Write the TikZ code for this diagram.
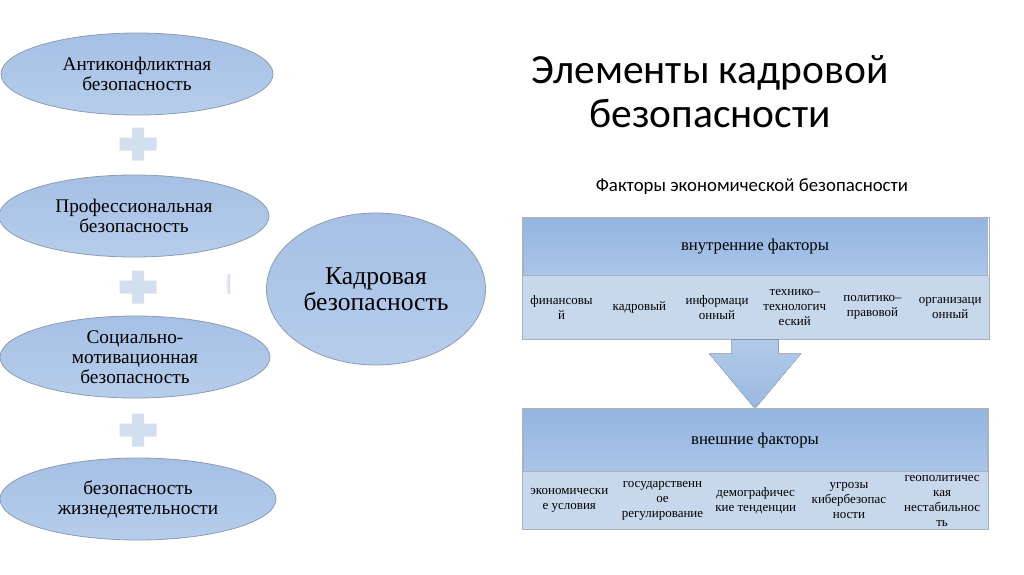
\documentclass[tikz,border=0pt]{standalone}
\usepackage{fontspec}
\setmainfont{Liberation Serif}
\newfontfamily\headfont{Carlito}
\usepackage{xcolor}
\definecolor{OvalTop}{HTML}{A6C0E4}
\definecolor{OvalBot}{HTML}{B6CDEC}
\definecolor{Rim}{HTML}{8C9CB3}
\definecolor{Plus}{HTML}{D3DEEE}
\definecolor{HeadTop}{HTML}{93B5E1}
\definecolor{HeadBot}{HTML}{AAC5E8}
\definecolor{Cell}{HTML}{C8D8EC}
\definecolor{Grid}{HTML}{A9B2BF}
\definecolor{ArrTop}{HTML}{B1CAEA}
\definecolor{ArrBot}{HTML}{9CB8E0}
\usepackage{tikz}
\usetikzlibrary{shapes.geometric,positioning,calc,backgrounds}

\begin{document}
\begin{tikzpicture}[x=1pt,y=-1pt,
  every node/.style={align=center,inner sep=0pt},
  oval/.style={ellipse,draw=Rim,line width=0.8pt,top color=OvalTop,bottom color=OvalBot,minimum width=272pt,minimum height=82pt,font=\fontsize{19.3}{20}\selectfont},
  plussign/.style={fill=Plus},
  headbox/.style={rectangle,draw=Grid,line width=0.6pt,top color=HeadTop,bottom color=HeadBot,minimum width=464pt,font=\fontsize{16.7}{18}\selectfont},
  cellbox/.style={rectangle,font=\fontsize{13}{15}\selectfont},
  arrowfill/.style={top color=ArrTop,bottom color=ArrBot}]
\useasboundingbox (0,0) rectangle (1024,574);

% left column of ovals
\node[oval] (anti) at (137,74) {Антиконфликтная\\безопасность};
\node[oval,minimum width=270pt] (prof) at (134,216) {Профессиональная\\безопасность};
\node[oval,minimum width=270pt] (soc) at (135,357) {Социально-\\мотивационная\\безопасность};
\node[oval,minimum width=276pt] (life) at (138,499) {безопасность\\жизнедеятельности};
\foreach \y in {144,287,430}
  \fill[plussign] (132,\y-16.5) rectangle (144,\y+16.5) (119.5,\y-6.5) rectangle (156.5,\y+6.5);
\shade[left color=white,right color=Plus!90!gray] (225,274) rectangle (230,293);

\node[ellipse,draw=Rim,line width=0.8pt,top color=OvalTop,bottom color=OvalBot,minimum width=219pt,minimum height=152pt,font=\fontsize{25.6}{26}\selectfont] (kadr) at (376,289) {Кадровая\\безопасность};

% title
\node[font=\headfont\fontsize{41.5}{44}\selectfont] (title) at (710,92) {Элементы кадровой\\безопасности};
\node[font=\headfont\fontsize{18.8}{20}\selectfont] (sub) at (752,187) {Факторы экономической безопасности};

% internal factors
\node[headbox,minimum height=57pt] (ih) at (755,246.5) {внутренние факторы};
\node[cellbox,minimum width=77.33pt,minimum height=64pt,anchor=north west] (i1) at (ih.south west) {финансовы\\й};
\node[cellbox,minimum width=77.33pt,minimum height=64pt,right=0pt of i1] (i2) {кадровый};
\node[cellbox,minimum width=77.33pt,minimum height=64pt,right=0pt of i2] (i3) {информаци\\онный};
\node[cellbox,minimum width=77.33pt,minimum height=64pt,right=0pt of i3] (i4) {технико–\\технологич\\еский};
\node[cellbox,minimum width=77.33pt,minimum height=64pt,right=0pt of i4] (i5) {политико–\\правовой};
\node[cellbox,minimum width=77.33pt,minimum height=64pt,right=0pt of i5] (i6) {организаци\\онный};
\begin{pgfonlayer}{background}
  \fill[Cell] (i1.north west) rectangle (i6.south east);
\end{pgfonlayer}
\draw[Grid,line width=0.6pt] (ih.north west) rectangle (i6.south east);

% arrow down
\coordinate (atop) at (ih.center |- i1.south);
\fill[arrowfill] ($(atop)+(-23.5,0)$) -- ++(0,14) -- ++(-22.5,0) -- ++(46,55) -- ++(46,-55) -- ++(-22.5,0) -- ++(0,-14) -- cycle;

% external factors
\node[headbox,minimum height=62pt] (eh) at (755,440) {внешние факторы};
\node[cellbox,minimum width=92.8pt,minimum height=58pt,anchor=north west] (e1) at (eh.south west) {экономически\\е условия};
\node[cellbox,minimum width=92.8pt,minimum height=58pt,right=0pt of e1] (e2) {государственн\\ое\\регулирование};
\node[cellbox,minimum width=92.8pt,minimum height=58pt,right=0pt of e2] (e3) {демографичес\\кие тенденции};
\node[cellbox,minimum width=92.8pt,minimum height=58pt,right=0pt of e3] (e4) {угрозы\\кибербезопас\\ности};
\node[cellbox,minimum width=92.8pt,minimum height=58pt,right=0pt of e4] (e5) {геополитичес\\кая\\нестабильнос\\ть};
\begin{pgfonlayer}{background}
  \fill[Cell] (e1.north west) rectangle (e5.south east);
\end{pgfonlayer}
\draw[Grid,line width=0.6pt] (eh.north west) rectangle (e5.south east);
\end{tikzpicture}
\end{document}
